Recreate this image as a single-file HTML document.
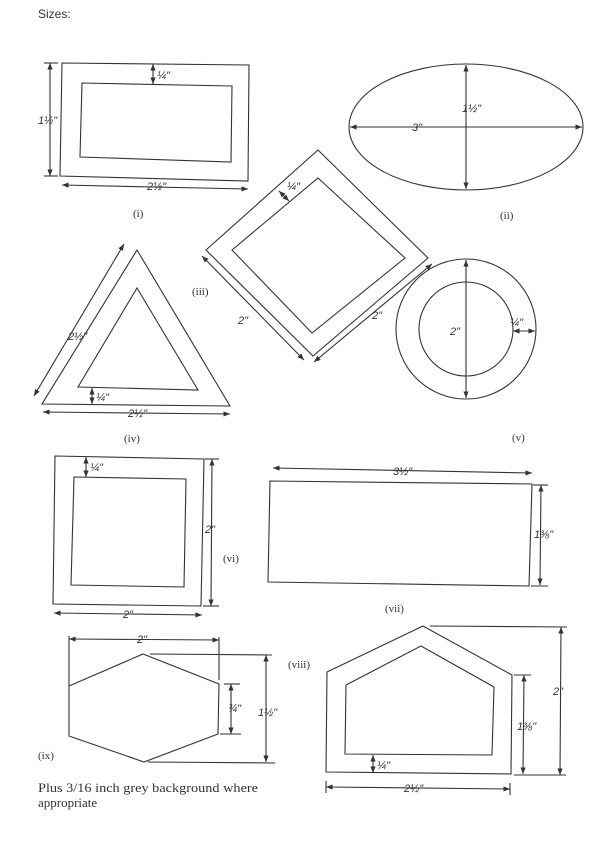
<!DOCTYPE html>
<html><head><style>
body{margin:0;background:#fff;}
svg{display:block;}
text{font-family:"Liberation Serif",serif;fill:#333;}
.h{font-family:"Liberation Sans",sans-serif;font-size:11px;font-style:italic;}
</style></head><body>
<svg width="600" height="842" viewBox="0 0 600 842">
<defs>
<marker id="a" viewBox="0 0 10 10" refX="10" refY="5" markerWidth="6" markerHeight="6" orient="auto-start-reverse"><path d="M0,1 L10,5 L0,9z" fill="#333"/></marker>
</defs>
<g fill="none" stroke="#333" stroke-width="1.1">
<!-- (i) -->
<polygon points="62,63 249,65 248,181 60,176"/>
<polygon points="82,83 232,86 231,162 80,157"/>
<line x1="153" y1="64" x2="153" y2="84" marker-start="url(#a)" marker-end="url(#a)"/>
<line x1="50" y1="63" x2="50" y2="176" marker-start="url(#a)" marker-end="url(#a)"/>
<line x1="44" y1="63" x2="58" y2="63"/><line x1="44" y1="176" x2="58" y2="176"/>
<line x1="62" y1="185" x2="248" y2="189" marker-start="url(#a)" marker-end="url(#a)"/>
<!-- (ii) -->
<ellipse cx="466" cy="127" rx="117" ry="63"/>
<line x1="350" y1="127" x2="582" y2="127" marker-start="url(#a)" marker-end="url(#a)"/>
<line x1="466" y1="65" x2="466" y2="189" marker-start="url(#a)" marker-end="url(#a)"/>
<!-- (iii) -->
<polygon points="318,150 428,258 313,356 206,250"/>
<polygon points="318,178 405,258 312,333 232,250"/>
<line x1="279" y1="191" x2="289" y2="201" marker-start="url(#a)" marker-end="url(#a)"/>
<line x1="202" y1="256" x2="304" y2="360" marker-start="url(#a)" marker-end="url(#a)"/>
<line x1="314" y1="362" x2="432" y2="264" marker-start="url(#a)" marker-end="url(#a)"/>
<!-- (iv) -->
<polygon points="137,250 230,406 42,404"/>
<polygon points="137,288 198,390 78,387"/>
<line x1="124" y1="244" x2="34" y2="396" marker-start="url(#a)" marker-end="url(#a)"/>
<line x1="92" y1="388" x2="92" y2="404" marker-start="url(#a)" marker-end="url(#a)"/>
<line x1="43" y1="412" x2="230" y2="414" marker-start="url(#a)" marker-end="url(#a)"/>
<!-- (v) -->
<circle cx="466" cy="329" r="70"/>
<circle cx="466" cy="329" r="47"/>
<line x1="466" y1="260" x2="466" y2="398" marker-start="url(#a)" marker-end="url(#a)"/>
<line x1="513" y1="331" x2="535" y2="331" marker-start="url(#a)" marker-end="url(#a)"/>
<!-- (vi) -->
<polygon points="55,456 204,459 201,606 53,604"/>
<polygon points="74,477 186,479 184,587 71,585"/>
<line x1="86" y1="457" x2="86" y2="477" marker-start="url(#a)" marker-end="url(#a)"/>
<line x1="212" y1="459" x2="211" y2="606" marker-start="url(#a)" marker-end="url(#a)"/>
<line x1="205" y1="459" x2="219" y2="459"/><line x1="203" y1="606" x2="219" y2="606"/>
<line x1="54" y1="613" x2="202" y2="615" marker-start="url(#a)" marker-end="url(#a)"/>
<!-- (vii) -->
<polygon points="270,481 532,484 529,586 268,582"/>
<line x1="273" y1="468" x2="532" y2="473" marker-start="url(#a)" marker-end="url(#a)"/>
<line x1="541" y1="485" x2="540" y2="585" marker-start="url(#a)" marker-end="url(#a)"/>
<line x1="533" y1="485" x2="548" y2="485"/><line x1="531" y1="586" x2="548" y2="586"/>
<!-- (ix) -->
<polygon points="69,686 143,654 219,684 218,734 144,762 69,736"/>
<line x1="69" y1="639" x2="219" y2="640" marker-start="url(#a)" marker-end="url(#a)"/>
<line x1="69" y1="636" x2="69" y2="686"/><line x1="219" y1="637" x2="219" y2="680"/>
<line x1="231" y1="684" x2="231" y2="734" marker-start="url(#a)" marker-end="url(#a)"/>
<line x1="224" y1="684" x2="240" y2="684"/><line x1="220" y1="734" x2="241" y2="734"/>
<line x1="266" y1="655" x2="266" y2="762" marker-start="url(#a)" marker-end="url(#a)"/>
<line x1="150" y1="654" x2="272" y2="655"/><line x1="148" y1="762" x2="275" y2="763"/>
<!-- (viii) -->
<polygon points="327,672 423,626 512,675 511,774 326,772"/>
<polygon points="346,685 421,646 494,687 492,755 345,754"/>
<line x1="373" y1="755" x2="373" y2="773" marker-start="url(#a)" marker-end="url(#a)"/>
<line x1="524" y1="675" x2="523" y2="774" marker-start="url(#a)" marker-end="url(#a)"/>
<line x1="514" y1="675" x2="531" y2="675"/><line x1="514" y1="775" x2="566" y2="775"/>
<line x1="561" y1="627" x2="560" y2="775" marker-start="url(#a)" marker-end="url(#a)"/>
<line x1="430" y1="626" x2="567" y2="627"/>
<line x1="326" y1="787" x2="510" y2="789" marker-start="url(#a)" marker-end="url(#a)"/>
<line x1="326" y1="781" x2="326" y2="793"/><line x1="510" y1="783" x2="510" y2="795"/>
</g>
<g>
<text x="38" y="18" font-size="12" style="font-family:'Liberation Sans',sans-serif">Sizes:</text>
<text class="h" x="157" y="79">¼"</text>
<text class="h" x="38" y="124">1½"</text>
<text class="h" x="147" y="190">2½"</text>
<text x="133" y="217" font-size="11">(i)</text>
<text class="h" x="462" y="112">1½"</text>
<text class="h" x="412" y="131">3"</text>
<text x="500" y="219" font-size="11">(ii)</text>
<text class="h" x="287" y="190">¼"</text>
<text x="192" y="295" font-size="11">(iii)</text>
<text class="h" x="238" y="324">2"</text>
<text class="h" x="372" y="319">2"</text>
<text class="h" x="68" y="340">2½"</text>
<text class="h" x="96" y="401">¼"</text>
<text class="h" x="128" y="417">2½"</text>
<text x="124" y="442" font-size="11">(iv)</text>
<text class="h" x="450" y="335">2"</text>
<text class="h" x="510" y="326">¼"</text>
<text x="512" y="441" font-size="11">(v)</text>
<text class="h" x="90" y="471">¼"</text>
<text class="h" x="205" y="533">2"</text>
<text x="223" y="562" font-size="11">(vi)</text>
<text class="h" x="123" y="618">2"</text>
<text class="h" x="393" y="475">3½"</text>
<text class="h" x="534" y="538">1⅜"</text>
<text x="385" y="612" font-size="11">(vii)</text>
<text class="h" x="137" y="643">2"</text>
<text class="h" x="228" y="712">¾"</text>
<text class="h" x="258" y="716">1½"</text>
<text x="38" y="759" font-size="11">(ix)</text>
<text x="288" y="668" font-size="11">(viii)</text>
<text class="h" x="553" y="695">2"</text>
<text class="h" x="517" y="730">1⅜"</text>
<text class="h" x="377" y="769">¼"</text>
<text class="h" x="404" y="792">2½"</text>
<text x="38" y="792" font-size="13" textLength="220" lengthAdjust="spacingAndGlyphs">Plus 3/16 inch grey background where</text>
<text x="38" y="807" font-size="13">appropriate</text>
</g>
</svg>
</body></html>
